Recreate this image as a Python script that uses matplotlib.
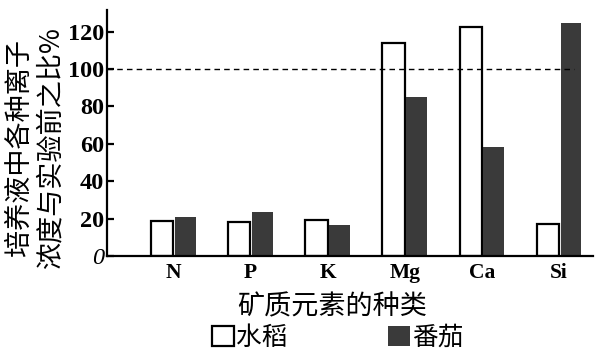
import matplotlib
matplotlib.use("Agg")
import matplotlib.pyplot as plt
import numpy as np

categories = ["N", "P", "K", "Mg", "Ca", "Si"]
rice = [18.7, 18.2, 19.3, 114, 122.6, 17]
tomato = [21, 23.6, 16.6, 85, 58, 124.8]
yticks = [0, 20, 40, 60, 80, 100, 120]
ref_line = 100

cjk = ["Noto Sans CJK SC", "DejaVu Sans"]
serif = "Liberation Serif"

fig = plt.figure(figsize=(5.98, 3.53), dpi=100)
ax = fig.add_axes([107/598, (353-256)/353, (593-107)/598, (256-10)/353])

x = np.arange(len(categories))
w = 0.29
b1 = ax.bar(x - w/2, rice, width=w, facecolor="white", edgecolor="black", linewidth=1.6, label="水稻")
b2 = ax.bar(x + w/2 + 0.01, tomato, width=w - 0.02, facecolor="#3a3a3a", edgecolor="none", label="番茄")

ax.axhline(ref_line, xmin=0, xmax=(5.20 + 0.86)/(5.44 + 0.86), color="black", linestyle=(0, (4, 3)), linewidth=1)

ax.set_xlim(-0.86, 5.44)
ax.set_ylim(0, 131.5)
for s in ["top", "right"]:
    ax.spines[s].set_visible(False)
for s in ["left", "bottom"]:
    ax.spines[s].set_linewidth(1.6)

ax.set_xticks(x)
ax.set_xticklabels(categories, fontfamily=serif, fontweight="bold", fontsize=15.5)
ax.tick_params(axis="x", length=0, pad=5)
ax.set_yticks(yticks)
ax.set_yticklabels([str(v) for v in yticks], fontfamily=serif, fontweight="bold", fontsize=17.5)
ax.tick_params(axis="y", direction="in", length=5, width=1.6, pad=2)
ax.get_yticklabels()[0].set_style("italic")
ax.get_yticklabels()[0].set_fontweight("normal")

fig.text(35/598, 1 - 148/353, "培养液中各种离子\n浓度与实验前之比%", rotation=90,
         ha="center", va="center", family=cjk, fontsize=19.5, linespacing=1.25,
         multialignment="center")

fig.text(332/598, 1 - 307/353, "矿质元素的种类", ha="center", va="center", family=cjk, fontsize=19.5)

fig.legend(handles=[b1, b2], labels=["水稻", "番茄"], loc="center", bbox_to_anchor=(338/598, 1 - 338/353),
           ncol=2, frameon=False, prop={"family": cjk, "size": 18.5}, handlelength=0.85, handleheight=0.85,
           handletextpad=0.1, columnspacing=3.9, borderpad=0)

fig.savefig("out.png", dpi=100)
